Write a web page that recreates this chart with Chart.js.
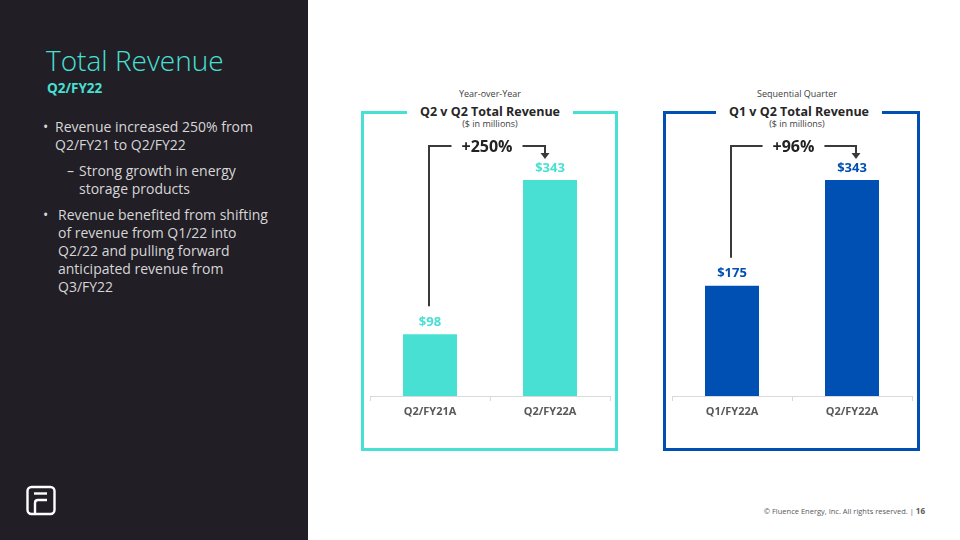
<!DOCTYPE html>
<html>
<head>
<meta charset="utf-8">
<script src="https://cdn.jsdelivr.net/npm/chart.js@4.4.0/dist/chart.umd.min.js"></script>
<style>
  html,body{margin:0;padding:0;}
  body{width:960px;height:540px;position:relative;overflow:hidden;background:#ffffff;font-family:"Open Sans",sans-serif;}
  .panel{position:absolute;left:0;top:0;width:308px;height:540px;background:#211e26;}
  .ttl{position:absolute;left:46px;top:42px;font-size:28px;font-weight:300;color:#48e0d2;white-space:nowrap;line-height:36px;}
  .sub{position:absolute;left:47px;top:79px;font-size:13.5px;font-weight:700;color:#48e0d2;line-height:18px;}
  .ln{position:absolute;font-size:14px;color:#d6d6d6;white-space:nowrap;line-height:18px;}
  .box{position:absolute;box-sizing:border-box;border:3px solid;}
  .hdr{position:absolute;width:240px;text-align:center;white-space:nowrap;}
  .small{font-size:9px;color:#404040;line-height:12px;}
  .big{font-size:12.5px;font-weight:700;color:#262626;line-height:18px;}
  .big span{background:#fff;padding:0 13px;}
  canvas{position:absolute;}
  .foot{position:absolute;right:35px;top:505px;font-size:7.5px;color:#595959;white-space:nowrap;}
  .foot b{font-size:8px;}
</style>
</head>
<body>
<div class="panel"></div>
<div class="ttl">Total Revenue</div>
<div class="sub">Q2/FY22</div>
<div class="ln" style="left:43px;top:118px;">•</div>
<div class="ln" style="left:55px;top:118px;">Revenue increased 250% from<br>Q2/FY21 to Q2/FY22</div>
<div class="ln" style="left:67px;top:162px;">–</div>
<div class="ln" style="left:79px;top:162px;">Strong growth in energy<br>storage products</div>
<div class="ln" style="left:43px;top:206px;">•</div>
<div class="ln" style="left:58px;top:206px;">Revenue benefited from shifting<br>of revenue from Q1/22 into<br>Q2/22 and pulling forward<br>anticipated revenue from<br>Q3/FY22</div>

<svg style="position:absolute;left:24px;top:484px;" width="34" height="34" viewBox="0 0 34 34">
  <rect x="3.5" y="3" width="27" height="27" rx="4" ry="4" fill="none" stroke="#ffffff" stroke-width="2.4"/>
  <line x1="10" y1="9.5" x2="23" y2="9.5" stroke="#ffffff" stroke-width="2.4"/>
  <path d="M11 30 V19 Q11 16 14 16 H23" fill="none" stroke="#ffffff" stroke-width="2.4"/>
</svg>

<div class="box" style="left:361px;top:111px;width:257px;height:340px;border-color:#48e0d2;"></div>
<div class="box" style="left:663px;top:111px;width:257px;height:340px;border-color:#0050b4;"></div>

<div class="hdr small" style="left:370px;top:88px;">Year-over-Year</div>
<div class="hdr big" style="left:370px;top:103px;"><span>Q2 v Q2 Total Revenue</span></div>
<div class="hdr small" style="left:370px;top:118px;">($ in millions)</div>

<div class="hdr small" style="left:677px;top:88px;">Sequential Quarter</div>
<div class="hdr big" style="left:679px;top:103px;"><span>Q1 v Q2 Total Revenue</span></div>
<div class="hdr small" style="left:677px;top:118px;">($ in millions)</div>

<canvas id="c1" width="260" height="300" style="left:360px;top:130px;"></canvas>
<canvas id="c2" width="260" height="300" style="left:662px;top:130px;"></canvas>

<div class="foot">© Fluence Energy, Inc. All rights reserved. | <b>16</b></div>

<script>
// ---- data ----
const yoyCategories = ['Q2/FY21A', 'Q2/FY22A'];
const yoyValues = [98, 343];
const seqCategories = ['Q1/FY22A', 'Q2/FY22A'];
const seqValues = [175, 343];
const growthLabels = ['+250%', '+96%'];
const yMax = 400;

const tealColor = '#48e0d2';
const blueColor = '#0050b4';

const bracketPlugin = {
  id: 'bracket',
  afterDatasetsDraw(chart, args, opts) {
    const ctx = chart.ctx;
    const meta = chart.getDatasetMeta(0);
    const ds = chart.data.datasets[0];
    const b0 = meta.data[0], b1 = meta.data[1];
    ctx.save();
    // value labels
    ctx.font = 'bold 13px "Open Sans"';
    ctx.fillStyle = ds.backgroundColor;
    ctx.textAlign = 'center';
    ctx.textBaseline = 'middle';
    meta.data.forEach((b, i) => ctx.fillText('$' + ds.data[i], b.x, b.y - 12));
    // bracket
    const yLine = chart.chartArea.top + 2;
    const x0 = b0.x - 1;
    const x1 = b1.x + (opts.arrowShift || 0);
    const yBottom = b0.y - 28;
    const cx = (x0 + x1) / 2;
    ctx.font = 'bold 16px "Open Sans"';
    const tw = ctx.measureText(opts.text).width;
    ctx.strokeStyle = '#3a3a3a';
    ctx.lineWidth = 2;
    ctx.beginPath();
    ctx.moveTo(x0, yBottom);
    ctx.lineTo(x0, yLine);
    ctx.lineTo(cx - tw / 2 - 10, yLine);
    ctx.moveTo(cx + tw / 2 + 10, yLine);
    ctx.lineTo(x1, yLine);
    ctx.lineTo(x1, yLine + 8);
    ctx.stroke();
    ctx.fillStyle = '#3a3a3a';
    ctx.beginPath();
    ctx.moveTo(x1 - 4.5, yLine + 7);
    ctx.lineTo(x1 + 4.5, yLine + 7);
    ctx.lineTo(x1, yLine + 13);
    ctx.closePath();
    ctx.fill();
    ctx.fillStyle = '#222222';
    ctx.fillText(opts.text, cx, yLine + 1);
    ctx.restore();
  }
};

function makeChart(id, cats, vals, color, text, shift) {
  return new Chart(document.getElementById(id), {
    type: 'bar',
    data: {
      labels: cats,
      datasets: [{ data: vals, backgroundColor: color, borderWidth: 0,
                   categoryPercentage: 1, barPercentage: 0.45 }]
    },
    options: {
      responsive: false,
      animation: false,
      layout: { padding: { left: 10, right: 10, top: 14, bottom: 0 } },
      plugins: { legend: { display: false }, tooltip: { enabled: false },
                 bracket: { text: text, arrowShift: shift } },
      scales: {
        y: { display: false, min: 0, max: yMax },
        x: {
          afterFit(scale) { scale.height = 34; },
          grid: { display: true, offset: true, drawOnChartArea: false, tickLength: 5, color: '#d9d9d9', lineWidth: 1 },
          border: { display: true, color: '#d9d9d9', width: 1 },
          ticks: { padding: 4, color: '#595959', font: { family: 'Open Sans', size: 11, weight: 'bold' } }
        }
      }
    },
    plugins: [bracketPlugin]
  });
}

makeChart('c1', yoyCategories, yoyValues, tealColor, growthLabels[0], -5);
makeChart('c2', seqCategories, seqValues, blueColor, growthLabels[1], 4);
</script>
</body>
</html>
